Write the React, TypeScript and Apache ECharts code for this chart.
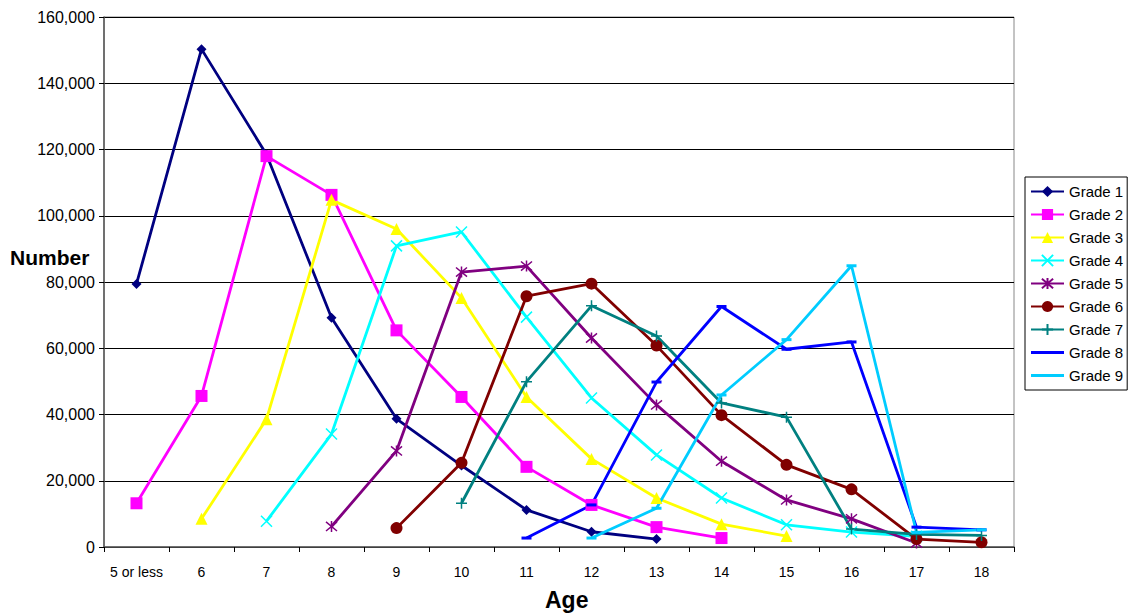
import React, { useEffect, useRef } from "react";
import * as echarts from "echarts";

const ages = ["5 or less", "6", "7", "8", "9", "10", "11", "12", "13", "14", "15", "16", "17", "18"];
const grade1 = [79400, 150300, 118500, 69200, 38700, 24600, 11200, 4600, 2400, null, null, null, null, null];
const grade2 = [13200, 45600, 118000, 106300, 65400, 45300, 24200, 12700, 6000, 2700, null, null, null, null];
const grade3 = [null, 8500, 38600, 104800, 96000, 75200, 45300, 26600, 14800, 6900, 3300, null, null, null];
const grade4 = [null, null, 7800, 34100, 90900, 95100, 69400, 45000, 27800, 14800, 6700, 4500, 3200, null];
const grade5 = [null, null, null, 6200, 29000, 83000, 84800, 63100, 42900, 25900, 14200, 8500, 1200, null];
const grade6 = [null, null, null, null, 5700, 25400, 75700, 79500, 60800, 39800, 24800, 17400, 2400, 1400];
const grade7 = [null, null, null, null, null, 13200, 49900, 72800, 63700, 43500, 39200, 5400, 3800, 3500];
const grade8 = [null, null, null, null, null, null, 2700, 12700, 49800, 72600, 59700, 61900, 6000, 5200];
const grade9 = [null, null, null, null, null, null, null, 2700, 11700, 45900, 62600, 84900, 4400, 5200];
const seriesNames = ["Grade 1", "Grade 2", "Grade 3", "Grade 4", "Grade 5", "Grade 6", "Grade 7", "Grade 8", "Grade 9"];
const seriesData = [grade1, grade2, grade3, grade4, grade5, grade6, grade7, grade8, grade9];
const colors = ["#000080", "#FF00FF", "#FFFF00", "#00FFFF", "#800080", "#800000", "#008080", "#0000FF", "#00CCFF"];
const yTicks = [0, 20000, 40000, 60000, 80000, 100000, 120000, 140000, 160000];

const symbols: any[] = [
  { symbol: "diamond", size: 10, stroke: false },
  { symbol: "rect", size: 12, stroke: false },
  { symbol: "triangle", size: 12, stroke: false },
  { symbol: "path://M0,0L10,10M10,0L0,10", size: 11, stroke: true },
  { symbol: "path://M0,0L10,10M10,0L0,10M5,-1L5,11", size: 11, stroke: true },
  { symbol: "circle", size: 12, stroke: false },
  { symbol: "path://M5,0L5,10M0,5L10,5", size: 11, stroke: true },
  { symbol: "rect", size: [10, 3], stroke: false },
  { symbol: "rect", size: [10, 3], stroke: false },
];

const font = "'Liberation Sans', Arial, sans-serif";
const plainLineIcon = "path://M0,0L33,0L33,0Z M0,5.5L33,5.5L33,8.5L0,8.5Z M0,14L33,14L33,14Z";

export default function App() {
  const ref = useRef<HTMLDivElement>(null);
  useEffect(() => {
    if (!ref.current) return;
    const chart = echarts.init(ref.current, undefined, { renderer: "svg" });
    const series = seriesNames.map((name, i) => {
      const s = symbols[i];
      return {
        name,
        type: "line",
        data: seriesData[i],
        connectNulls: false,
        symbol: s.symbol,
        symbolSize: s.size,
        showAllSymbol: true,
        lineStyle: { color: colors[i], width: 2.8 },
        itemStyle: s.stroke
          ? { color: colors[i], borderColor: colors[i], borderWidth: 1.5 }
          : { color: colors[i], borderWidth: 0 },
        emphasis: { disabled: true },
      };
    });
    const legendData = seriesNames.map((name, i) =>
      i >= 7 ? { name, icon: plainLineIcon, itemStyle: { color: colors[i], borderWidth: 0 } } : { name }
    );
    chart.setOption({
      animation: false,
      textStyle: { fontFamily: font },
      grid: {
        left: 104,
        right: 116,
        top: 17,
        bottom: 67,
        show: true,
        borderColor: "#888",
        borderWidth: 1,
      },
      legend: {
        orient: "vertical",
        left: 1025,
        top: 177,
        padding: [7, 4, 7, 5],
        itemWidth: 33,
        itemHeight: 14,
        itemGap: 8,
        backgroundColor: "#fff",
        borderColor: "#000",
        borderWidth: 1,
        borderRadius: 0,
        textStyle: { fontFamily: font, fontSize: 15, color: "#000" },
        data: legendData,
      },
      xAxis: {
        type: "category",
        data: ages,
        boundaryGap: true,
        axisLine: { lineStyle: { color: "#555", width: 1.5 } },
        axisTick: { show: true, length: 5, lineStyle: { color: "#000" } },
        axisLabel: {
          color: "#000",
          fontSize: 14,
          margin: 18,
          interval: 0,
        },
        splitLine: { show: false },
      },
      yAxis: {
        type: "value",
        min: 0,
        max: 160000,
        interval: 20000,
        axisLine: { show: true, lineStyle: { color: "#555", width: 1.5 } },
        axisTick: { show: true, length: 5, lineStyle: { color: "#000" } },
        axisLabel: {
          color: "#000",
          fontSize: 16,
          margin: 9,
          formatter: (v: number) => (yTicks.includes(v) ? v.toLocaleString("en-US") : ""),
        },
        splitLine: { show: true, lineStyle: { color: "#000", width: 1 } },
      },
      graphic: [
        {
          type: "text",
          x: 10,
          y: 257,
          style: { text: "Number", font: `bold 21px ${font}`, fill: "#000", textAlign: "left", textVerticalAlign: "middle" },
        },
        {
          type: "text",
          x: 545,
          y: 600,
          style: { text: "Age", font: `bold 23px ${font}`, fill: "#000", textAlign: "left", textVerticalAlign: "middle" },
        },
      ],
      series,
    });
    return () => chart.dispose();
  }, []);
  return <div ref={ref} style={{ position: "absolute", left: 0, top: 0, width: 1130, height: 614 }} />;
}
